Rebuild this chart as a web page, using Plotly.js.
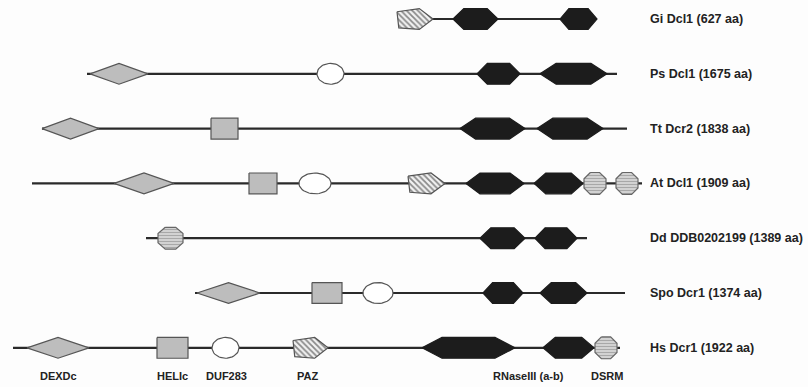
<!DOCTYPE html>
<html><head><meta charset="utf-8">
<script src="https://cdn.plot.ly/plotly-3.0.1.min.js"></script>
<style>html,body{margin:0;padding:0;background:#fdfdfd;}#chart{width:808px;height:387px;}</style>
</head><body><div id="chart"></div>
<script>
// ---- data (positions along a common alignment scale) ----
const proteins = ['Gi Dcl1 (627 aa)', 'Ps Dcl1 (1675 aa)', 'Tt Dcr2 (1838 aa)', 'At Dcl1 (1909 aa)',
                  'Dd DDB0202199 (1389 aa)', 'Spo Dcr1 (1374 aa)', 'Hs Dcr1 (1922 aa)'];
const backboneStart = [400, 87, 42, 32, 146, 195, 13];
const backboneEnd   = [597, 617, 627, 642, 587, 625, 620];
// [row, start, end]
const dexdc  = [[1, 90, 148], [2, 42, 99], [3, 114, 174], [5, 197, 260], [6, 27, 89]];
const helic  = [[2, 211, 238], [3, 249, 277], [5, 312, 342], [6, 157, 188]];
const duf283 = [[1, 317, 344], [3, 299, 331], [5, 363, 393], [6, 212, 239]];
const paz    = [[0, 397, 433], [3, 408, 445], [6, 293, 328]];
const rnase3 = [[0, 453, 498], [0, 560, 597], [1, 477, 520], [1, 540, 607], [2, 460, 525], [2, 537, 603],
                [3, 466, 524], [3, 534, 583], [4, 480, 525], [4, 535, 577], [5, 483, 523], [5, 540, 587],
                [6, 422, 515], [6, 543, 594]];
const dsrm   = [[3, 584, 606], [3, 616, 638], [4, 158, 183], [6, 595, 617]];
const domainLabels = ['DEXDc', 'HELIc', 'DUF283', 'PAZ', 'RNaseIII (a-b)', 'DSRM'];
const domainLabelX = [58, 172, 226, 307, 528, 607];

// ---- geometry helpers ----
const H = 0.19;       // half height of domains (y units)
function poly(list, fn) {
  const xs = [], ys = [];
  list.forEach(d => {
    const pts = fn(d[1], d[2], d[0]);
    pts.forEach(p => { xs.push(p[0]); ys.push(p[1]); });
    xs.push(pts[0][0]); ys.push(pts[0][1]);
    xs.push(null); ys.push(null);
  });
  return {x: xs, y: ys};
}
const diamond = (a, b, r) => [[a, r], [(a + b) / 2, r - H], [b, r], [(a + b) / 2, r + H]];
const square = (a, b, r) => [[a, r - H], [b, r - H], [b, r + H], [a, r + H]];
const ellipse = (a, b, r) => {
  const p = [], cx = (a + b) / 2, rx = (b - a) / 2;
  for (let i = 0; i < 48; i++) { const t = 2 * Math.PI * i / 48; p.push([cx + rx * Math.cos(t), r + H * Math.sin(t)]); }
  return p;
};
const pentagon = (a, b, r) => {
  const w = b - a;
  return [[a, r - H * 0.7], [a + 0.62 * w, r - H], [b, r], [a + 0.62 * w, r + H], [a + 0.05 * w, r + H * 0.85]];
};
const hexagon = (a, b, r) => {
  const s = Math.min(0.24 * (b - a), 20);
  return [[a, r], [a + s, r - H], [b - s, r - H], [b, r], [b - s, r + H], [a + s, r + H]];
};
const octagon = (a, b, r) => {
  const w = b - a, c = 0.29 * w, hy = H * 1.05, cy = 0.58 * hy;
  return [[a + c, r - hy], [b - c, r - hy], [b, r - hy + cy], [b, r + hy - cy],
          [b - c, r + hy], [a + c, r + hy], [a, r + hy - cy], [a, r - hy + cy]];
};

// ---- traces ----
const bx = [], by = [];
proteins.forEach((p, i) => { bx.push(backboneStart[i], backboneEnd[i], null); by.push(i, i, null); });
const traces = [
  {x: bx, y: by, mode: 'lines', line: {color: '#2a2a2a', width: 2.2}, hoverinfo: 'skip'}
];
function shapeTrace(list, fn, fill, lineCol, pattern) {
  const p = poly(list, fn);
  const t = {x: p.x, y: p.y, mode: 'lines', fill: 'toself', fillcolor: fill,
             line: {color: lineCol, width: 1.2}, hoverinfo: 'skip'};
  if (pattern) t.fillpattern = pattern;
  return t;
}
traces.push(shapeTrace(dexdc, diamond, '#bdbdbd', '#555555'));
traces.push(shapeTrace(helic, square, '#bdbdbd', '#555555'));
traces.push(shapeTrace(duf283, ellipse, '#ffffff', '#555555'));
traces.push(shapeTrace(paz, pentagon, '#eeeeee', '#555555',
  {shape: '\\', bgcolor: '#f2f2f2', fgcolor: '#8a8a8a', size: 4, solidity: 0.45}));
traces.push(shapeTrace(rnase3, hexagon, '#1c1c1c', '#1c1c1c'));
traces.push(shapeTrace(dsrm, octagon, '#cfcfcf', '#666666',
  {shape: '-', bgcolor: '#d2d2d2', fgcolor: '#a8a8a8', size: 3, solidity: 0.35}));

// ---- annotations ----
const annotations = [];
proteins.forEach((p, i) => annotations.push({
  x: 648, y: i, text: '<b>' + p + '</b>', showarrow: false, xanchor: 'left', yanchor: 'middle',
  font: {family: 'Liberation Sans, Arial, sans-serif', size: 12.5, color: '#222'}
}));
domainLabels.forEach((l, i) => annotations.push({
  x: domainLabelX[i], y: 6.51, text: '<b>' + l + '</b>', showarrow: false, xanchor: 'center', yanchor: 'middle',
  font: {family: 'Liberation Sans, Arial, sans-serif', size: 11, color: '#222'}
}));

const layout = {
  width: 808, height: 387, margin: {l: 0, r: 0, t: 0, b: 0},
  paper_bgcolor: '#fdfdfd', plot_bgcolor: '#fdfdfd', showlegend: false,
  xaxis: {range: [0, 808], visible: false, fixedrange: true},
  yaxis: {range: [6.715, -0.347], visible: false, fixedrange: true},
  annotations: annotations
};
Plotly.newPlot('chart', traces, layout, {staticPlot: true, displayModeBar: false});
</script></body></html>
